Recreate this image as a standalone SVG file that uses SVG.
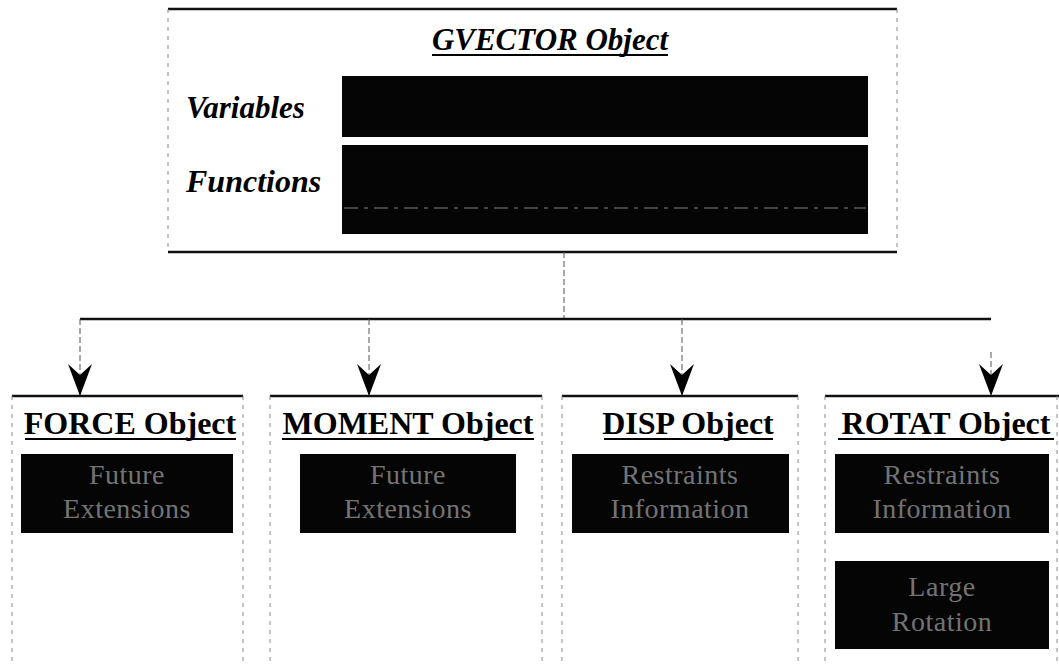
<svg xmlns="http://www.w3.org/2000/svg" width="1059" height="665" viewBox="0 0 1059 665">
  <style>
    .rule { stroke: #111; stroke-width: 2.4; fill: none; }
    .side { stroke: #888; stroke-width: 1; stroke-dasharray: 4 5; fill: none; }
    .link { stroke: #555; stroke-width: 1; stroke-dasharray: 6 3; fill: none; }
    .slab { fill: #050505; }
    .head { font-family: "Liberation Serif", "Times New Roman", serif; font-weight: bold; font-style: italic; fill: #000; }
    .title { font-family: "Liberation Serif", "Times New Roman", serif; font-weight: bold; font-size: 32px; fill: #000; text-anchor: middle; }
    .inner { font-family: "Liberation Serif", "Times New Roman", serif; font-size: 28px; fill: #fff; fill-opacity: 0.45; text-anchor: middle; letter-spacing: 0.5px; }
    .uline { stroke: #000; stroke-width: 2.2; }
  </style>
  <defs>
    <marker id="barb" markerUnits="userSpaceOnUse" viewBox="0 0 32 24" refX="32" refY="12" markerWidth="32" markerHeight="24" orient="auto">
      <path d="M0,0 L32,12 L0,24 L11,12 Z" fill="#000"/>
    </marker>
  </defs>

  <rect width="1059" height="665" fill="#fff"/>

  <!-- base class -->
  <g id="gvector">
    <line class="rule" x1="168" y1="9" x2="897" y2="9"/>
    <line class="rule" x1="168" y1="252" x2="897" y2="252"/>
    <line class="side" x1="168" y1="9" x2="168" y2="252"/>
    <line class="side" x1="897" y1="9" x2="897" y2="252"/>
    <text class="head" x="550" y="50" font-size="31" text-anchor="middle">GVECTOR Object</text>
    <line class="uline" x1="432" y1="55" x2="668" y2="55"/>
    <text class="head" x="186" y="118" font-size="31">Variables</text>
    <text class="head" x="186" y="192" font-size="32">Functions</text>
    <rect class="slab" x="342" y="76" width="526" height="61"/>
    <rect class="slab" x="342" y="145" width="526" height="89"/>
    <line x1="344" y1="208" x2="866" y2="208" stroke="#fff" stroke-opacity="0.5" stroke-width="1.2" stroke-dasharray="14 6 4 6"/>
  </g>

  <!-- inheritance connectors -->
  <g id="connectors">
    <line class="link" x1="564" y1="252" x2="564" y2="319"/>
    <line class="rule" x1="80" y1="319" x2="991" y2="319"/>
    <line class="link" x1="80" y1="319" x2="80" y2="396" marker-end="url(#barb)"/>
    <line class="link" x1="369" y1="319" x2="369" y2="396" marker-end="url(#barb)"/>
    <line class="link" x1="682" y1="319" x2="682" y2="396" marker-end="url(#barb)"/>
    <line class="link" x1="991" y1="352" x2="991" y2="396" marker-end="url(#barb)"/>
  </g>

  <g id="force">
    <line class="rule" x1="12" y1="396" x2="243" y2="396"/>
    <line class="side" x1="12" y1="396" x2="12" y2="665"/>
    <line class="side" x1="243" y1="396" x2="243" y2="665"/>
    <text class="title" x="130" y="434">FORCE Object</text>
    <line class="uline" x1="25" y1="439" x2="236" y2="439"/>
    <rect class="slab" x="21" y="454" width="212" height="79"/>
    <text class="inner" x="127" y="484">Future</text>
    <text class="inner" x="127" y="518">Extensions</text>
  </g>

  <g id="moment">
    <line class="rule" x1="270" y1="396" x2="542" y2="396"/>
    <line class="side" x1="270" y1="396" x2="270" y2="665"/>
    <line class="side" x1="542" y1="396" x2="542" y2="665"/>
    <text class="title" x="408" y="434">MOMENT Object</text>
    <line class="uline" x1="282" y1="439" x2="534" y2="439"/>
    <rect class="slab" x="300" y="454" width="216" height="79"/>
    <text class="inner" x="408" y="484">Future</text>
    <text class="inner" x="408" y="518">Extensions</text>
  </g>

  <g id="disp">
    <line class="rule" x1="562" y1="396" x2="798" y2="396"/>
    <line class="side" x1="562" y1="396" x2="562" y2="665"/>
    <line class="side" x1="798" y1="396" x2="798" y2="665"/>
    <text class="title" x="688" y="434">DISP Object</text>
    <line class="uline" x1="604" y1="439" x2="773" y2="439"/>
    <rect class="slab" x="572" y="454" width="217" height="79"/>
    <text class="inner" x="680" y="484">Restraints</text>
    <text class="inner" x="680" y="518">Information</text>
  </g>

  <g id="rotat">
    <line class="rule" x1="825" y1="396" x2="1059" y2="396"/>
    <line class="side" x1="825" y1="396" x2="825" y2="665"/>
    <line class="side" x1="1057" y1="396" x2="1057" y2="665"/>
    <text class="title" x="946" y="434">ROTAT Object</text>
    <line class="uline" x1="838" y1="439" x2="1054" y2="439"/>
    <rect class="slab" x="835" y="454" width="214" height="79"/>
    <text class="inner" x="942" y="484">Restraints</text>
    <text class="inner" x="942" y="518">Information</text>
    <rect class="slab" x="835" y="561" width="214" height="88"/>
    <text class="inner" x="942" y="596">Large</text>
    <text class="inner" x="942" y="631">Rotation</text>
  </g>
</svg>
